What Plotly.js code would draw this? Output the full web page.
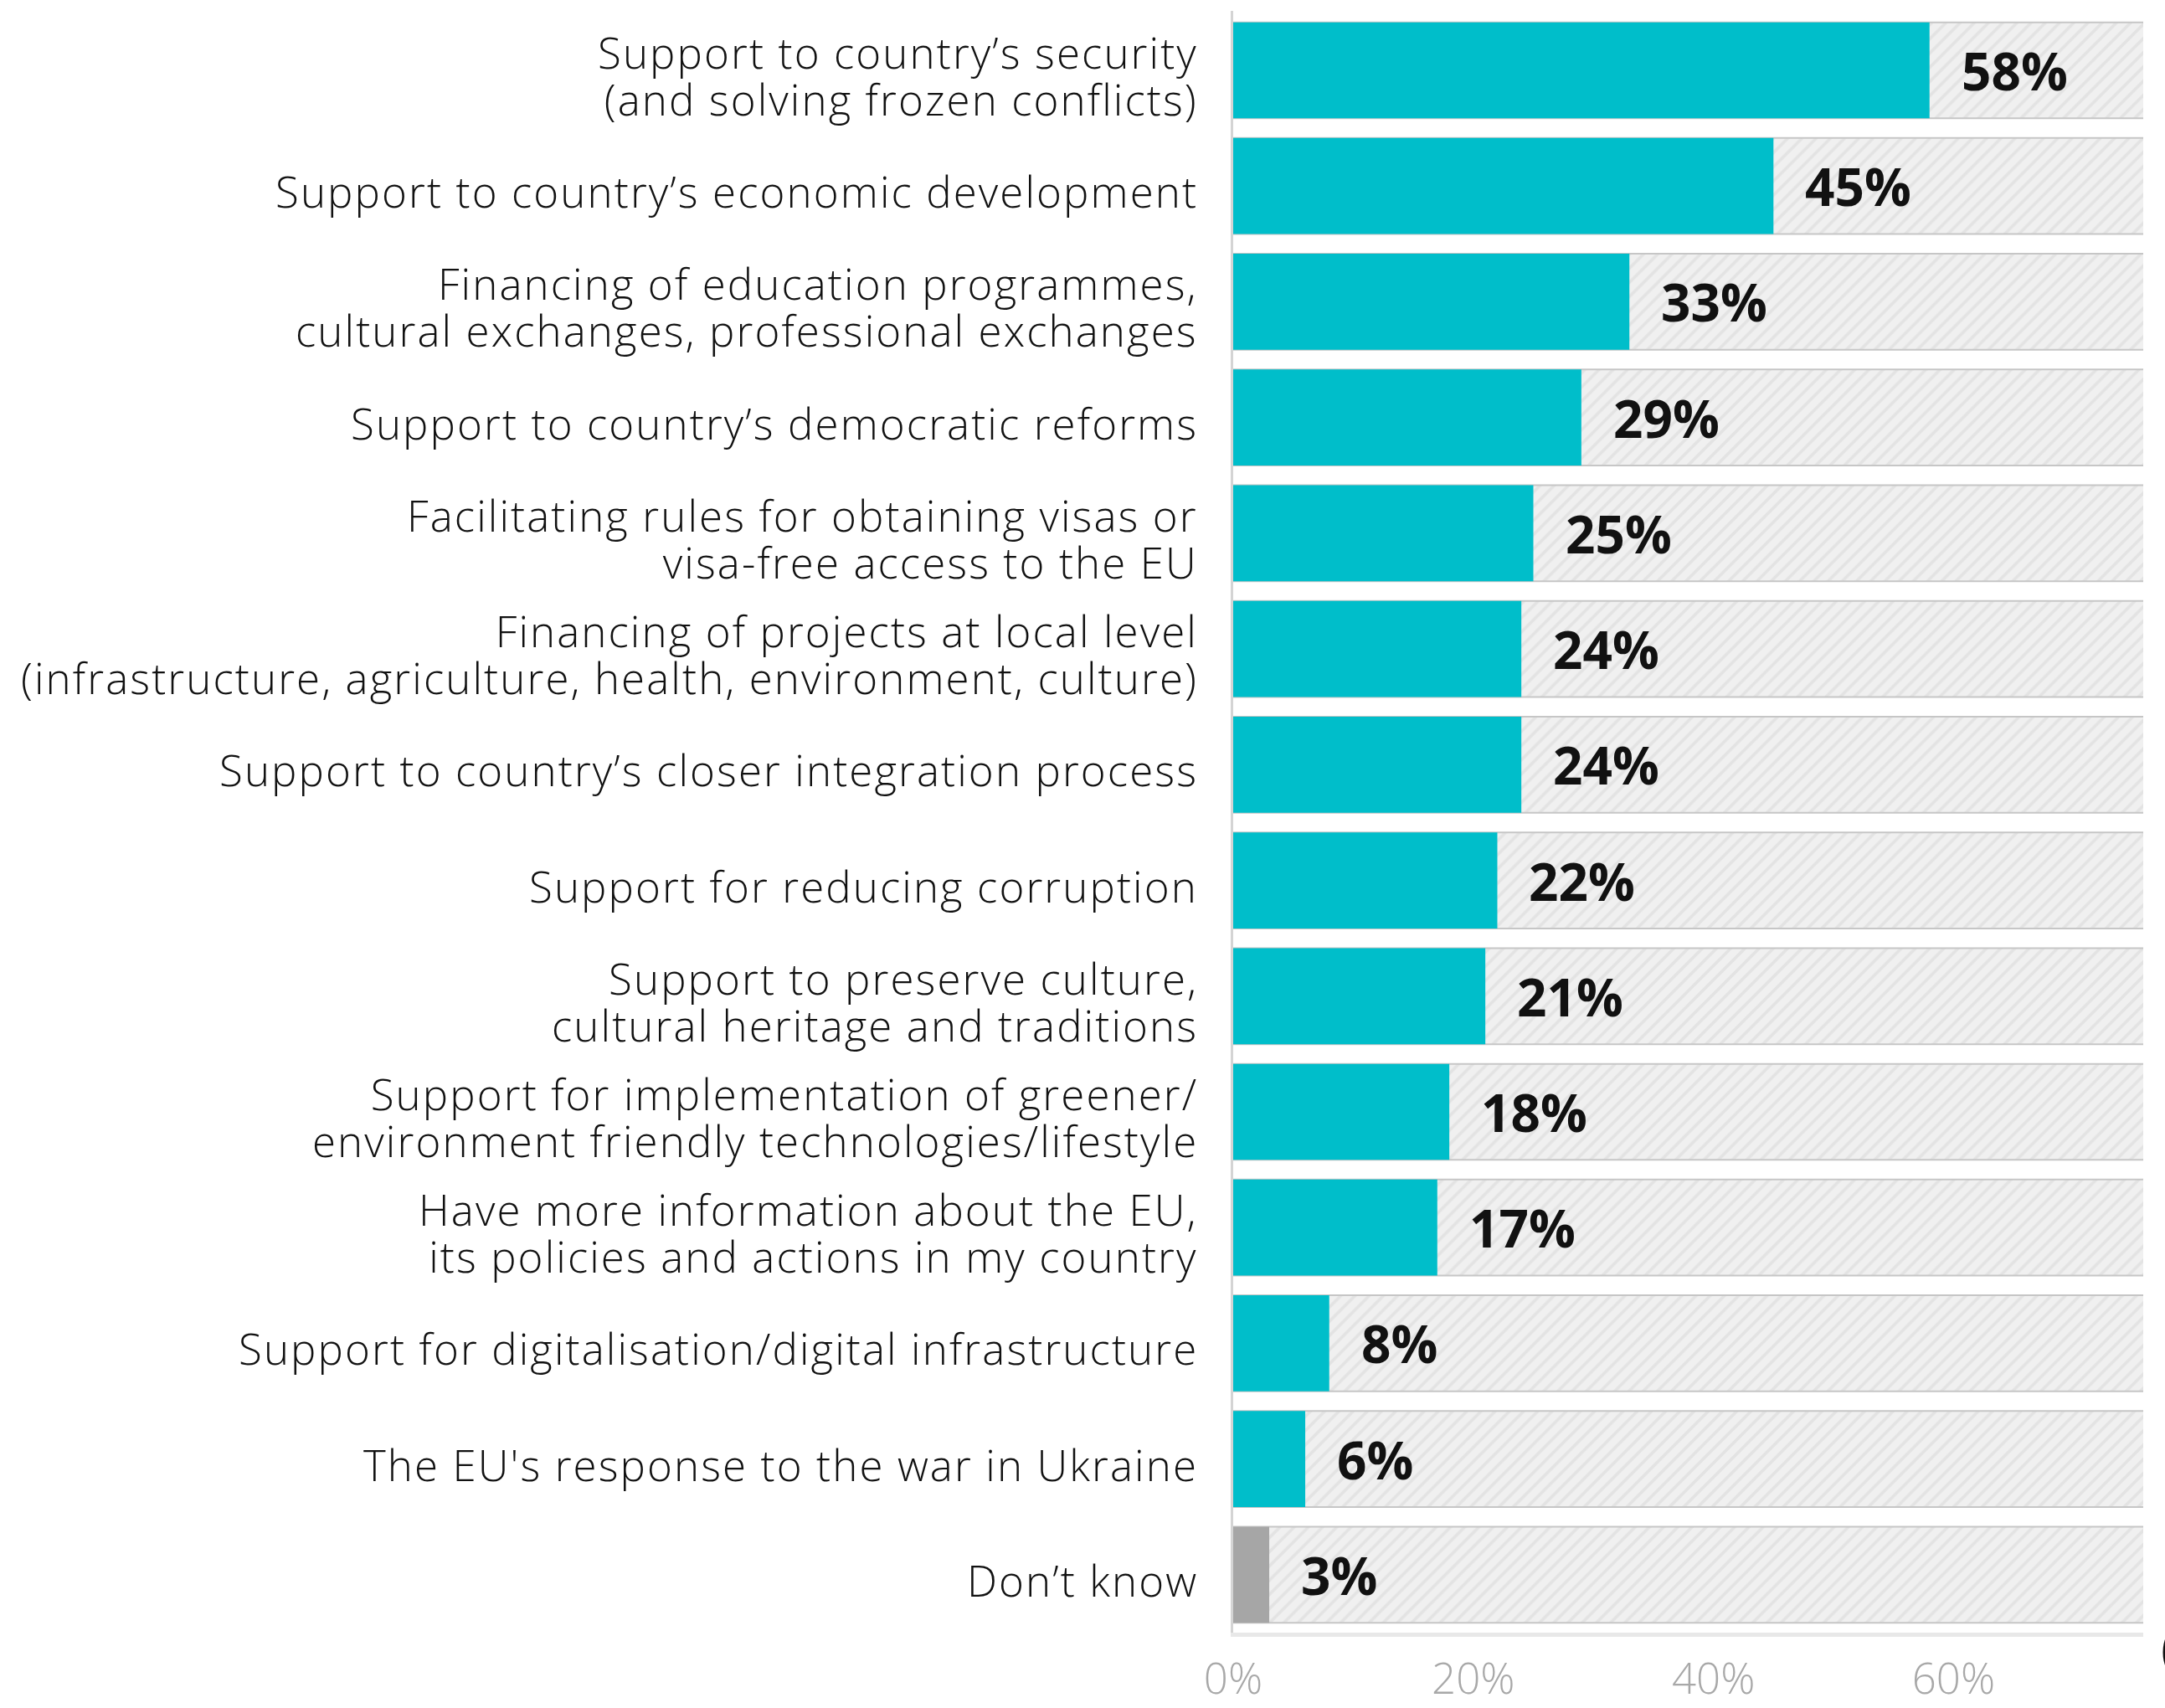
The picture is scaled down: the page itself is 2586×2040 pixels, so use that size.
<!DOCTYPE html>
<html>
<head>
<meta charset="utf-8">
<script src="https://cdn.plot.ly/plotly-3.0.1.min.js"></script>
<style>html,body{margin:0;padding:0;background:#fff;}#chart{width:2586px;height:2040px;}</style>
</head>
<body>
<div id="chart"></div>
<script>
const categories = [
  "Support to country’s security<br>(and solving frozen conflicts)",
  "Support to country’s economic development",
  "Financing of education programmes,<br>cultural exchanges, professional exchanges",
  "Support to country’s democratic reforms",
  "Facilitating rules for obtaining visas or<br>visa-free access to the EU",
  "Financing of projects at local level<br>(infrastructure, agriculture, health, environment, culture)",
  "Support to country’s closer integration process",
  "Support for reducing corruption",
  "Support to preserve culture,<br>cultural heritage and traditions",
  "Support for implementation of greener/<br>environment friendly technologies/lifestyle",
  "Have more information about the EU,<br>its policies and actions in my country",
  "Support for digitalisation/digital infrastructure",
  "The EU's response to the war in Ukraine",
  "Don’t know"
];
const values = [58, 45, 33, 29, 25, 24, 24, 22, 21, 18, 17, 8, 6, 3];
const valueLabels = ["58%", "45%", "33%", "29%", "25%", "24%", "24%", "22%", "21%", "18%", "17%", "8%", "6%", "3%"];
const backgroundValues = [100, 100, 100, 100, 100, 100, 100, 100, 100, 100, 100, 100, 100, 100];
const xTickValues = [0, 20, 40, 60];
const xTickLabels = ["0%", "20%", "40%", "60%"];

const TEAL = "#00BECA";
const GREY = "#A6A6A6";
const barColors = categories.map((c, i) => i === categories.length - 1 ? GREY : TEAL);

const bgTrace = {
  type: "bar",
  orientation: "h",
  y: categories,
  x: backgroundValues,
  width: 0.83,
  marker: {
    color: "#EEEEEE",
    line: {color: "#C6C6C6", width: 2},
    pattern: {shape: "/", bgcolor: "#F0F0F0", fgcolor: "#E3E3E3", size: 12, solidity: 0.3}
  },
  hoverinfo: "skip",
  showlegend: false
};

const mainTrace = {
  type: "bar",
  orientation: "h",
  y: categories,
  x: values,
  width: 0.83,
  marker: {color: barColors, line: {width: 0}},
  showlegend: false
};

// base font size 43 sets the 1.3em line pitch (~56px); the span enlarges the glyphs
const annotations = [];
categories.forEach((c, i) => {
  const text = c.split("<br>")
    .map(ln => '<span style="font-size:51px;letter-spacing:2.1px">' + ln + '</span>')
    .join("<br>");
  annotations.push({
    x: 0, y: c, xref: "paper", yref: "y",
    text: text,
    align: "right",
    showarrow: false, xanchor: "right", yanchor: "middle",
    xshift: -40, yshift: -6,
    font: {family: "Open Sans, sans-serif", size: 43, color: "#111111", weight: 300}
  });
});
categories.forEach((c, i) => {
  annotations.push({
    x: values[i], y: c, xref: "x", yref: "y",
    text: valueLabels[i],
    showarrow: false, xanchor: "left", xshift: 36,
    font: {family: "Open Sans, sans-serif", size: 62, color: "#111111", weight: 700}
  });
});
annotations.push({
  x: (2579 - 1473) / 1087, y: -17 / 1937, xref: "paper", yref: "paper",
  text: "(", showarrow: false, xanchor: "left", yanchor: "middle",
  font: {family: "Open Sans, sans-serif", size: 62, color: "#111111"}
});

const layout = {
  width: 2586,
  height: 2040,
  margin: {l: 1473, r: 26, t: 13, b: 90, pad: 0},
  paper_bgcolor: "#ffffff",
  plot_bgcolor: "#ffffff",
  barmode: "overlay",
  showlegend: false,
  xaxis: {
    range: [0, 75.8],
    tickvals: xTickValues,
    ticktext: xTickLabels,
    showgrid: false,
    zeroline: false,
    showline: true,
    linecolor: "#E8E8E8",
    linewidth: 5,
    ticks: "",
    ticklabelstandoff: 7,
    tickfont: {family: "Open Sans, sans-serif", size: 51, color: "#A8A8A8", weight: 300},
    fixedrange: true
  },
  yaxis: {
    type: "category",
    autorange: "reversed",
    showgrid: false,
    zeroline: false,
    showline: true,
    linecolor: "#D4D4D4",
    linewidth: 3,
    ticks: "",
    showticklabels: false,
    fixedrange: true
  },
  annotations: annotations
};

Plotly.newPlot("chart", [bgTrace, mainTrace], layout, {displayModeBar: false, staticPlot: true});
</script>
</body>
</html>
